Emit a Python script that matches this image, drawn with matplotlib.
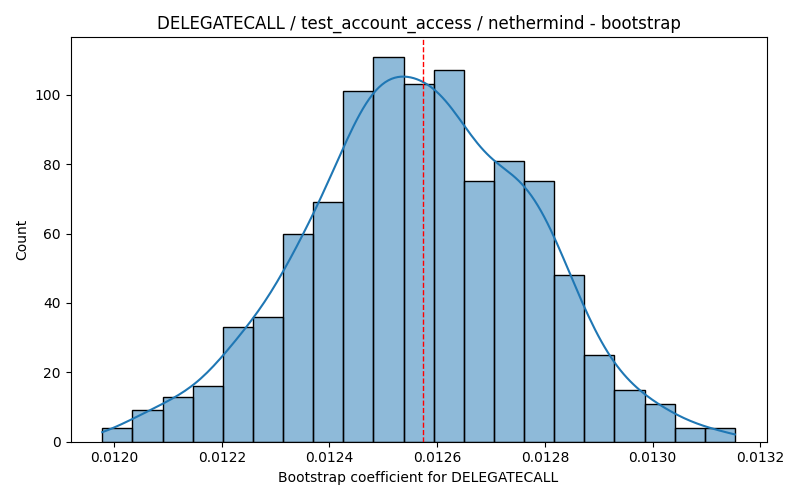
import numpy as np
import pandas as pd
import matplotlib.pyplot as plt
import seaborn as sns

# histogram (1000 bootstrap samples)
edge_lo = 0.011978
edge_hi = 0.013153
counts = [4, 9, 13, 16, 33, 36, 60, 69, 101, 111, 103,
          107, 75, 81, 75, 48, 25, 15, 11, 4, 4]
mean_value = 0.012574

edges = np.linspace(edge_lo, edge_hi, len(counts) + 1)
df = pd.DataFrame({'coef': (edges[:-1] + edges[1:]) / 2, 'n': counts})

# weighted kde uses the effective sample size, rescale bandwidth to n=1000
n_total = sum(counts)
n_eff = n_total ** 2 / sum(c * c for c in counts)
bw_adj = (n_total / n_eff) ** (-0.2)

fig, ax = plt.subplots(figsize=(8, 5), dpi=100)
sns.histplot(data=df, x='coef', weights='n', bins=len(counts),
             binrange=(edge_lo, edge_hi), kde=True,
             kde_kws=dict(cut=2, clip=(edge_lo, edge_hi), bw_adjust=bw_adj),
             ax=ax)
ax.axvline(mean_value, color='red', linestyle='--', linewidth=1)

ax.set_title('DELEGATECALL / test_account_access / nethermind - bootstrap')
ax.set_xlabel('Bootstrap coefficient for DELEGATECALL')
ax.set_ylabel('Count')

plt.tight_layout()
plt.savefig('out.png')
